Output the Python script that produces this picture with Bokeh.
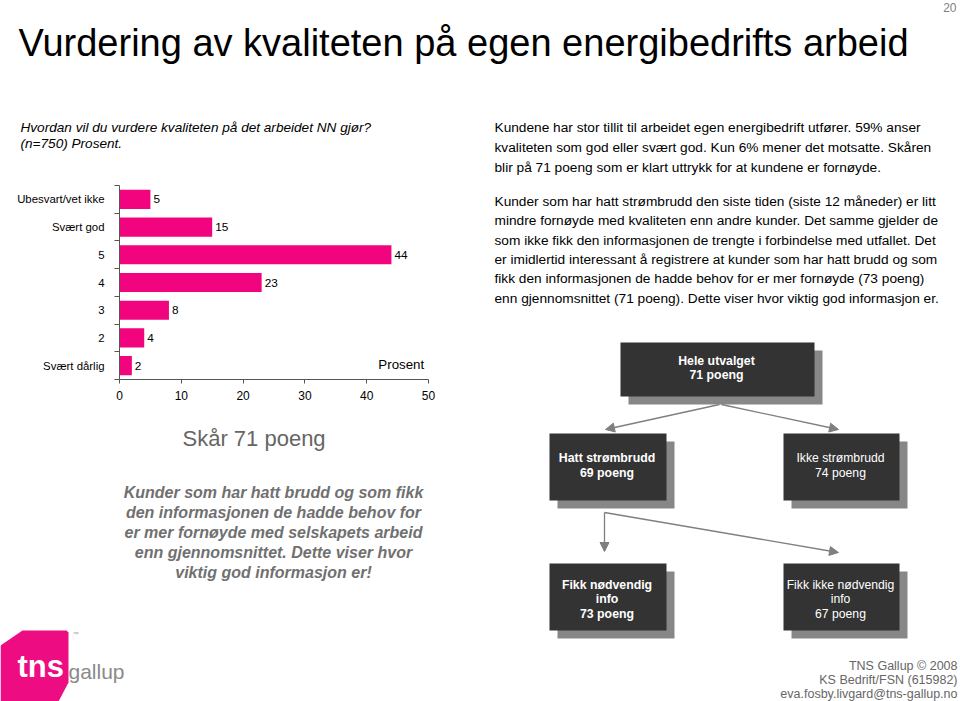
from bokeh.plotting import figure
from bokeh.models import Range1d, FixedTicker, Arrow, NormalHead, ColumnDataSource
from bokeh.layouts import column, row
from bokeh.embed import file_html
from bokeh.resources import INLINE
from bokeh.core.properties import value

FONT = "Liberation Sans"
PINK = "#F2047E"

# ---------------- data ----------------
categories = ["Ubesvart/vet ikke", "Svært god", "5", "4", "3", "2", "Svært dårlig"]
percent = [5, 15, 44, 23, 8, 4, 2]
x_ticks = [0, 10, 20, 30, 40, 50]
axis_unit = "Prosent"

title = "Vurdering av kvaliteten på egen energibedrifts arbeid"
page_no = "20"
question = ["Hvordan vil du vurdere kvaliteten på det arbeidet NN gjør?",
            "(n=750) Prosent."]
para1 = ["Kundene har stor tillit til arbeidet egen energibedrift utfører. 59% anser",
         "kvaliteten som god eller svært god. Kun 6% mener det motsatte. Skåren",
         "blir på 71 poeng som er klart uttrykk for at kundene er fornøyde."]
para2 = ["Kunder som har hatt strømbrudd den siste tiden (siste 12 måneder) er litt",
         "mindre fornøyde med kvaliteten enn andre kunder. Det samme gjelder de",
         "som ikke fikk den informasjonen de trengte i forbindelse med utfallet. Det",
         "er imidlertid interessant å registrere at kunder som har hatt brudd og som",
         "fikk den informasjonen de hadde behov for er mer fornøyde (73 poeng)",
         "enn gjennomsnittet (71 poeng). Dette viser hvor viktig god informasjon er."]
score_label = "Skår 71  poeng"
note_lines = ["Kunder som har hatt brudd og som fikk",
              "den informasjonen de hadde behov for",
              "er mer fornøyde med selskapets arbeid",
              "enn gjennomsnittet. Dette viser hvor",
              "viktig god informasjon er!"]
tree_labels = [["Hele utvalget"], ["Hatt strømbrudd"], ["Ikke strømbrudd"],
               ["Fikk nødvendig", "info"], ["Fikk ikke nødvendig", "info"]]
tree_scores = [71, 69, 74, 73, 67]
footer = ["TNS Gallup © 2008", "KS Bedrift/FSN (615982)", "eva.fosby.livgard@tns-gallup.no"]


def canvas(x0, x1, y0, y1):
    p = figure(width=x1 - x0, height=y1 - y0,
               x_range=Range1d(x0, x1), y_range=Range1d(y1, y0),
               output_backend="svg", toolbar_location=None,
               x_axis_type=None, y_axis_type=None, min_border=0,
               outline_line_color=None)
    return p


def txt(p, x, y, s, size, color="black", style="normal", align="left", baseline="middle"):
    p.text(x=[x], y=[y], text=[s], text_font=value(FONT), text_font_size=size,
           text_color=color, text_font_style=style, text_align=align,
           text_baseline=baseline)


# ---------------- top area ----------------
top = canvas(0, 960, 0, 183)
txt(top, 18, 42, title, "38px")
txt(top, 956, 7, page_no, "12px", color="#808080", align="right")
for i, s in enumerate(question):
    txt(top, 20, 127 + 16 * i, s, "13.6px", style="italic")
for i, s in enumerate(para1):
    txt(top, 494, 127 + 20 * i, s, "13.7px")

# ---------------- bar chart ----------------
n = len(categories)
ypos = [n - 0.5 - i for i in range(n)]
src = ColumnDataSource(dict(y=ypos, v=percent, lab=[str(v) for v in percent]))
bar = figure(width=478, height=235, x_range=Range1d(x_ticks[0], x_ticks[-1]),
             y_range=Range1d(0, n), output_backend="svg", toolbar_location=None,
             min_border_left=119, min_border_right=50, min_border_top=2,
             min_border_bottom=39, outline_line_color=None)
bar.hbar(y="y", left=0, right="v", height=0.69, fill_color=PINK, line_color=None, source=src)
bar.text(x="v", y="y", text="lab", x_offset=3, text_baseline="middle",
         text_font=value(FONT), text_font_size="11.8px", text_color="black", source=src)
bar.text(x=[49.3], y=[0.55], text=[axis_unit], text_align="right", text_baseline="middle",
         text_font=value(FONT), text_font_size="13.3px", text_color="black")
bar.grid.visible = False

xa = bar.xaxis[0]
xa.ticker = FixedTicker(ticks=x_ticks, minor_ticks=[])
xa.major_tick_out = 4
xa.major_tick_in = 0
xa.minor_tick_line_color = None
xa.axis_line_color = "#555555"
xa.major_tick_line_color = "#555555"
xa.major_label_text_font = FONT
xa.major_label_text_font_size = "12px"
xa.major_label_text_color = "black"
xa.major_label_standoff = 7

ya = bar.yaxis[0]
ya.ticker = FixedTicker(ticks=ypos, minor_ticks=list(range(n + 1)))
ya.major_tick_line_color = None
ya.major_tick_out = 0
ya.major_tick_in = 0
ya.minor_tick_out = 5
ya.minor_tick_in = 0
ya.minor_tick_line_color = "#555555"
ya.axis_line_color = "#555555"
ya.major_label_overrides = {y: c for y, c in zip(ypos, categories)}
ya.major_label_text_font = FONT
ya.major_label_text_font_size = "11.4px"
ya.major_label_text_color = "black"
ya.major_label_standoff = 10

# ---------------- bottom-left ----------------
bl = canvas(0, 478, 418, 701)
txt(bl, 182, 438, score_label, "22px", color="#666666")
for i, s in enumerate(note_lines):
    txt(bl, 273, 492 + 20 * i, s, "16px", color="#707070", style="bold italic", align="center")
bl.patch(x=[0, 22, 66, 68, 68, 58, 0], y=[645, 630, 630, 632, 682, 701, 701],
         fill_color="#EE0C82", line_color=None)
txt(bl, 17, 666, "tns", "31px", color="white", style="bold")
txt(bl, 68, 671, "gallup", "21px", color="#8a8a8a")
txt(bl, 72, 633, "™", "6px", color="#999999")

# ---------------- right area ----------------
rt = canvas(478, 960, 183, 701)
for i, s in enumerate(para2):
    txt(rt, 494, 201 + 19.3 * i, s, "13.7px")

boxes = [(620, 814, 342, 396), (549, 666, 433, 500), (783, 899, 433, 500),
         (549, 666, 563, 630), (783, 899, 563, 630)]
bold = [True, True, False, True, False]
for (l, r, t, b), lines, sc, bd in zip(boxes, tree_labels, tree_scores, bold):
    rt.quad(left=[l + 8], right=[r + 8], top=[t + 8], bottom=[b + 8],
            fill_color="#878787", line_color=None)
    rt.quad(left=[l], right=[r], top=[t], bottom=[b], fill_color="#333333", line_color=None)
    all_lines = lines + [f"{sc} poeng"]
    k = len(all_lines)
    cy = (t + b) / 2 + (-1.5 if k == 2 else 2)
    for j, s in enumerate(all_lines):
        yy = cy + (j - (k - 1) / 2) * 14.5
        txt(rt, (l + r) / 2 - 1, yy, s, "12.3px" if bd else "12.2px", color="white",
            style="bold" if bd else "normal", align="center")

arrows = [(719, 404, 605, 429), (721, 404, 838, 429), (604, 512, 604, 551), (604, 512, 838, 552)]
for x0, y0, x1, y1 in arrows:
    rt.add_layout(Arrow(end=NormalHead(size=9, fill_color="#7f7f7f", line_color="#7f7f7f"),
                        x_start=x0, y_start=y0, x_end=x1, y_end=y1,
                        line_color="#7f7f7f", line_width=1.3))

for i, s in enumerate(footer):
    txt(rt, 957, 665 + 14 * i, s, "12.5px", color="#666666", align="right")

layout = column(top, row(column(bar, row(bl)), rt))
open("out.html", "w").write(file_html(layout, INLINE))
